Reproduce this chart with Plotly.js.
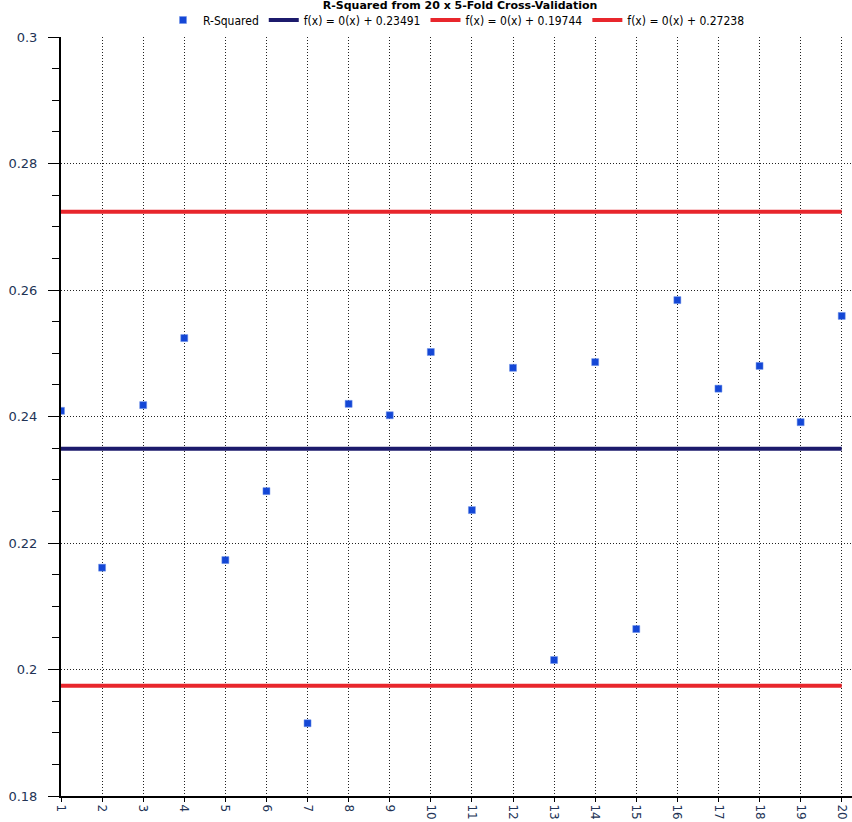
<!DOCTYPE html>
<html>
<head>
<meta charset="utf-8">
<script src="https://cdn.plot.ly/plotly-3.0.1.min.js"></script>
<style>
html,body{margin:0;padding:0;background:#fff;}
#chart{width:852px;height:822px;}
</style>
</head>
<body>
<div id="chart"></div>
<script>
const iterations = [1,2,3,4,5,6,7,8,9,10,11,12,13,14,15,16,17,18,19,20];
const rSquared = [0.2409,0.2161,0.2418,0.2524,0.2173,0.2282,0.1915,0.2420,0.2402,0.2502,
                  0.2252,0.2477,0.2015,0.2486,0.2064,0.2584,0.2444,0.2480,0.2391,0.2559];
const lineX = [1, 20];
const meanVal = 0.23491;
const lowerVal = 0.19744;
const upperVal = 0.27238;
const yTickVals = [0.18,0.2,0.22,0.24,0.26,0.28,0.3];
const yTickText = ["0.18","0.2","0.22","0.24","0.26","0.28","0.3"];
const xTickText = iterations.map(String);

const fnLabel = v => "f(x) = 0(x) + " + v.toFixed(5);

const traces = [
  {x: iterations, y: rSquared, type:'scatter', mode:'markers', name:'R-Squared',
   marker:{symbol:'square', size:7, color:'#1447d6', line:{width:0.5, color:'#6f92e8'}}},
  {x: lineX, y: lineX.map(()=>meanVal), type:'scatter', mode:'lines', name: fnLabel(meanVal),
   line:{color:'#1c1a6c', width:4}},
  {x: lineX, y: lineX.map(()=>lowerVal), type:'scatter', mode:'lines', name: fnLabel(lowerVal),
   line:{color:'#e8262c', width:4}},
  {x: lineX, y: lineX.map(()=>upperVal), type:'scatter', mode:'lines', name: fnLabel(upperVal),
   line:{color:'#e8262c', width:4}}
];

const layout = {
  width:852, height:822,
  margin:{l:61, r:0, t:37, b:26, pad:0},
  paper_bgcolor:'#fff', plot_bgcolor:'#fff',
  font:{family:'DejaVu Sans, Verdana, sans-serif', size:12, color:'#223355'},
  title:{text:'<b>R-Squared from 20 x 5-Fold Cross-Validation</b>', font:{size:11, color:'#000'},
         x:0.54, xanchor:'center', yref:'container', y:1-1/822, yanchor:'top'},
  showlegend:true,
  legend:{orientation:'h', x:0.5, xanchor:'center', xref:'paper', yref:'container', y:1-20/822, yanchor:'middle',
          font:{family:'DejaVu Sans Condensed, DejaVu Sans, sans-serif', size:12, color:'#000'},
          bgcolor:'rgba(0,0,0,0)', itemwidth:30, tracegroupgap:0},
  xaxis:{range:[1,20.25], tickvals:iterations, ticktext:xTickText, tickangle:90,
         showgrid:true, gridcolor:'#222', griddash:'1px,2px', gridwidth:1,
         showline:true, linecolor:'#000', linewidth:2, ticks:'outside', ticklen:4, tickcolor:'#000',
         ticklabelstandoff:0,
         zeroline:false, tickfont:{size:12, color:'#223355'}, fixedrange:true},
  yaxis:{range:[0.18,0.3], tickvals:yTickVals, ticktext:yTickText,
         showgrid:true, gridcolor:'#222', griddash:'1px,2px', gridwidth:1,
         showline:true, linecolor:'#000', linewidth:2, ticks:'outside', ticklen:11, tickcolor:'#000',
         ticklabelstandoff:8,
         minor:{dtick:0.005, tick0:0.18, ticks:'outside', ticklen:7, tickcolor:'#000', showgrid:false},
         zeroline:false, tickfont:{size:13, color:'#223355'}, fixedrange:true}
};

Plotly.newPlot('chart', traces, layout, {displayModeBar:false, staticPlot:true});
</script>
</body>
</html>
